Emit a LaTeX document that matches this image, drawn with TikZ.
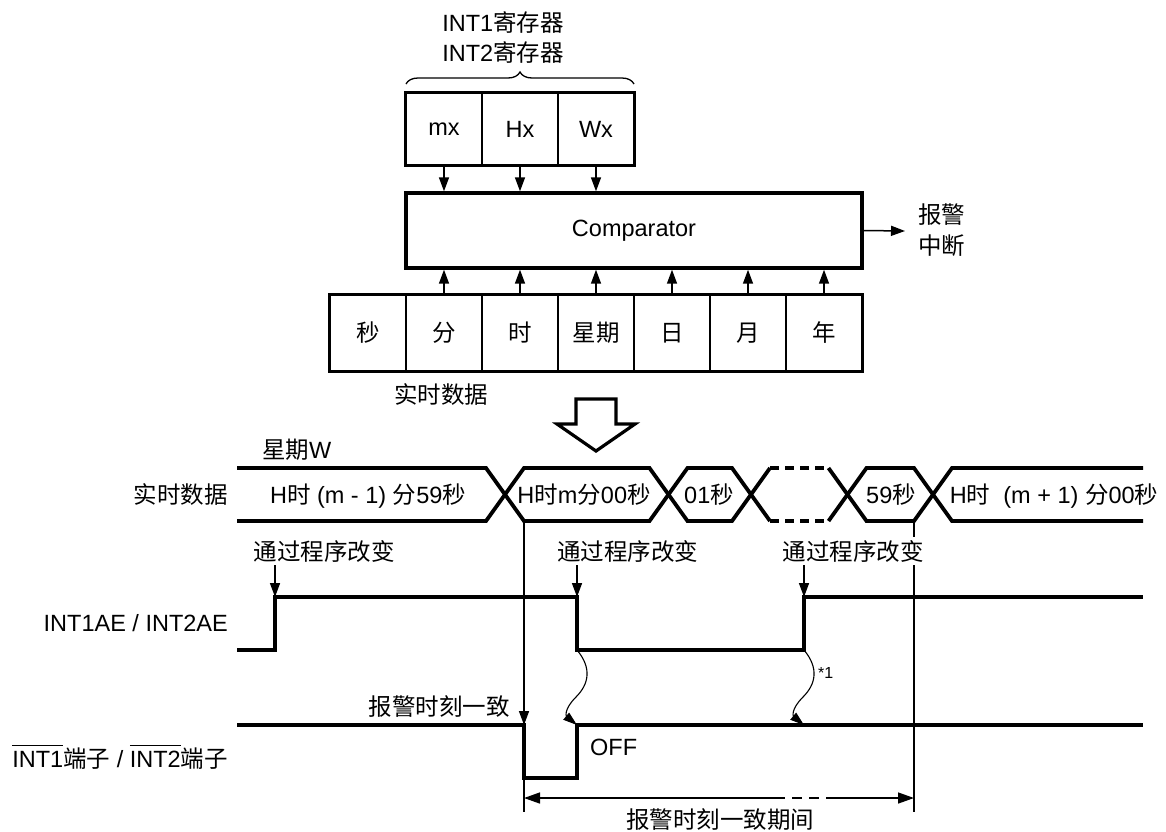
\documentclass[tikz,border=0pt]{standalone}
\usepackage{fontspec}
\setmainfont{Liberation Sans}
\newfontfamily\cjk{Noto Sans CJK SC}
\usetikzlibrary{arrows.meta,decorations.pathreplacing}
\newcommand\zh[1]{{\cjk #1}}
\newcommand\ovl[1]{\vbox{\hrule height 1.3pt\kern 4.5pt\hbox{#1}}}
\begin{document}
\begin{tikzpicture}[x=1pt,y=-1pt,
  font=\fontsize{23.5}{28}\selectfont,
  frame/.style={line width=3.4pt},
  cell/.style={draw, line width=1.5pt, minimum width=76pt, inner sep=0},
  ar/.style={line width=1.5pt, -{Triangle[length=14pt,width=10pt]}},
  wav/.style={line width=1.1pt, -{Triangle[length=14pt,width=9pt]}},
  sig/.style={line width=3.8pt, line join=miter},
  vl/.style={line width=1.5pt},
  lb/.style={inner sep=0, anchor=base},
  lbe/.style={inner sep=0, anchor=base east},
  lbw/.style={inner sep=0, anchor=base west},
  prog/.style={inner xsep=0, inner ysep=3pt, anchor=base, fill=white}]
\useasboundingbox (0,0) rectangle (1166,831);

% ---- register block ----
\node[lb] (rl1) at (503,31.5) {INT1\zh{寄存器}};
\node[lb] (rl2) at (503,61.5) {INT2\zh{寄存器}};
\draw[decorate, decoration={brace, amplitude=12pt}, line width=1.3pt] (406,84) -- (634,84);
\foreach \t/\n [count=\i] in {mx/r1,Hx/r2,Wx/r3}
  \node[cell, minimum height=72pt] (\n) at (368+76*\i,129) {\t};
\draw[frame] (r1.north west) rectangle (r3.south east);

% ---- comparator ----
\node[draw, line width=3.4pt, minimum width=456pt, minimum height=75pt, inner sep=0] (comp) at (634,230.5) {Comparator};
\foreach \n in {r1,r2,r3}
  \draw[ar] (\n.south) -- (\n.south |- comp.north);
\node[inner sep=0, anchor=west, align=left, font=\fontsize{23.5}{31}\selectfont] (alarm) at (918,230) {\zh{报警}\\\zh{中断}};
\draw[ar] (comp.east) -- (905,231);

% ---- real time data ----
\foreach \t [count=\i] in {秒,分,时,星期,日,月,年}
  \node[cell, minimum height=76pt] (d\i) at (292+76*\i,333) {\zh{\t}};
\draw[frame] (d1.north west) rectangle (d7.south east);
\foreach \i in {2,...,7}
  \draw[ar] (d\i.north) -- (d\i.north |- comp.south);
\node[lb] (rtd) at (441,403.5) {\zh{实时数据}};

% ---- big hollow arrow ----
\draw[line width=3.2pt, line join=miter] (576,399) -- (616,399) -- (616,424) -- (635,424) -- (596,451) -- (557,424) -- (576,424) -- cycle;

% ---- timing bus ----
\node[lbw] (week) at (262,458) {\zh{星期}W};
\node[lbe] (busname) at (228,503) {\zh{实时数据}};
\draw[sig] (237,468) -- (486,468) -- (524,521) -- (649.5,521) -- (687.5,468) -- (732,468) -- (770,521);
\draw[sig] (237,521) -- (486,521) -- (524,468) -- (649.5,468) -- (687.5,521) -- (732,521) -- (770,468);
\draw[sig, dash pattern=on 9pt off 6pt] (770,468) -- (828.5,468);
\draw[sig, dash pattern=on 9pt off 6pt] (770,521) -- (828.5,521);
\draw[sig] (828.5,468) -- (866.5,521) -- (914,521) -- (952,468) -- (1143,468);
\draw[sig] (828.5,521) -- (866.5,468) -- (914,468) -- (952,521) -- (1143,521);
\node[lb] (b1) at (368,503) {H\zh{时} (m - 1) \zh{分}59\zh{秒}};
\node[lb] (b2) at (584,503) {H\zh{时}m\zh{分}00\zh{秒}};
\node[lb] (b3) at (709,503) {01\zh{秒}};
\node[lb] (b4) at (891,503) {59\zh{秒}};
\node[lb] (b5) at (1054,503) {H\zh{时}\ \ (m + 1) \zh{分}00\zh{秒}};

% ---- reference vertical lines ----
\coordinate (vL0) at (524,521);
\coordinate (pinfall) at (524,725);
\coordinate (vL1) at (524,812);
\coordinate (vR0) at (914,521);
\coordinate (vR1) at (914,812);
\draw[ar] (vL0) -- (pinfall);
\draw[vl] (pinfall) -- (vL1);
\draw[vl] (vR0) -- (vR1);

% ---- program change labels ----
\node[prog] (t1) at (324,560) {\zh{通过程序改变}};
\node[prog] (t2) at (627.5,560) {\zh{通过程序改变}};
\node[prog] (t3) at (853,560) {\zh{通过程序改变}};

% ---- INT1AE / INT2AE ----
\node[lbe] (aelab) at (228,631) {INT1AE / INT2AE};
\coordinate (ae1) at (275,597);
\coordinate (ae2) at (577,597);
\coordinate (ae3) at (804,597);
\coordinate (aelo2) at (577,650);
\coordinate (aelo3) at (804,650);
\draw[sig] (237,650) -- (275,650) -- (ae1) -- (ae2) -- (aelo2) -- (aelo3) -- (ae3) -- (1143,597);
\draw[ar] (ae1 |- t1.south) -- (ae1);
\draw[ar] (ae2 |- t2.south) -- (ae2);
\draw[ar] (ae3 |- t3.south) -- (ae3);

% ---- INT pin ----
\node[lbe] (pinlab) at (228,767) {\ovl{INT1}\zh{端子} / \ovl{INT2}\zh{端子}};
\coordinate (pinrise) at (577,725);
\coordinate (pinoff) at (804,725);
\draw[sig] (237,725) -- (pinfall) -- (524,778) -- (577,778) -- (pinrise) -- (1143,725);
\node[lbe] (match) at (510,715) {\zh{报警时刻一致}};
\node[lbw] (off) at (590,755.5) {OFF};

% ---- wavy arrows ----
\draw[wav] (aelo2) .. controls (592,668) and (589,684) .. (576,697) .. controls (564,709) and (566,716) .. (pinrise);
\draw[wav] (aelo3) .. controls (819,668) and (816,684) .. (803,697) .. controls (791,709) and (793,716) .. (pinoff);
\node[lbw, font=\fontsize{16}{19}\selectfont] (star) at (818,678) {*1};

% ---- alarm match period ----
\coordinate (dl) at (524,798);
\coordinate (dm1) at (775,798);
\coordinate (dm2) at (827,798);
\coordinate (dr) at (914,798);
\draw[vl, {Triangle[length=16pt,width=11pt]}-] (dl) -- (dm1);
\draw[vl, dash pattern=on 10pt off 7pt] (dm1) -- (dm2);
\draw[vl, -{Triangle[length=16pt,width=11pt]}] (dm2) -- (dr);
\node[lb] (period) at (720,828.5) {\zh{报警时刻一致期间}};
\end{tikzpicture}
\end{document}
